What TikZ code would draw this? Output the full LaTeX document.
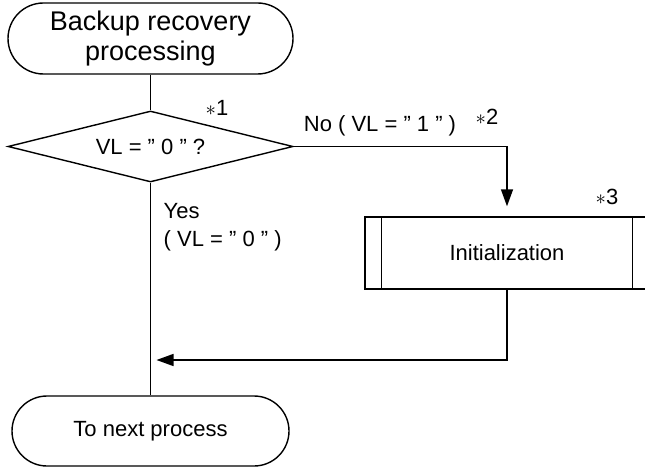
\documentclass[tikz,border=0pt]{standalone}
\usepackage{fontspec}
\setmainfont{Liberation Sans}
\usetikzlibrary{shapes.geometric,shapes.misc,arrows.meta,positioning}

\tikzset{
  terminal/.style={draw,rounded rectangle,inner sep=0pt,align=center},
  decision/.style={draw,diamond,aspect=4,inner sep=0pt,minimum width=285,minimum height=71},
  predef/.style={draw,rectangle,inner sep=0pt,minimum width=284,minimum height=72},
  flow/.style={-{Triangle[length=17pt,width=12pt]}},
  lbl/.style={font=\fontsize{22}{28}\selectfont},
}

\begin{document}
\begin{tikzpicture}[x=1pt,y=-1pt,line width=1.4pt,lbl]
\useasboundingbox (0,0) rectangle (645,468);
\node[terminal,minimum width=285,minimum height=71,font=\fontsize{27}{30}\selectfont] (start) at (150.5,38.5) {Backup recovery\\processing};
\node[decision] (dec) at (150.5,146.5) {VL = " 0 " ?};
\node[predef] (init) at (507,253) {Initialization};
\draw ([xshift=17]init.north west) -- ([xshift=17]init.south west);
\draw ([xshift=-17]init.north east) -- ([xshift=-17]init.south east);
\node[terminal,minimum width=277,minimum height=70] (next) at (150.5,431) {To next process};
\coordinate (merge) at (150.5,360);

% connectors
\draw (start.south) -- (dec.north);
\draw[flow,shorten >=10pt] (dec.east) -| (init.north);
\draw[flow,shorten >=6pt] (init.south) |- (merge);
\draw (dec.south) -- (next.north);

% labels
\node (n1) at (217,108) {$\ast$1};
\node (n2) at (487,117) {$\ast$2};
\node (n3) at (607,197) {$\ast$3};
\node (no) at (380,126) {No ( VL = " 1 " )};
\node[anchor=north west,align=left,inner sep=0pt] (yes) at (163,203) {Yes\\( VL = " 0 " )};
\end{tikzpicture}
\end{document}
